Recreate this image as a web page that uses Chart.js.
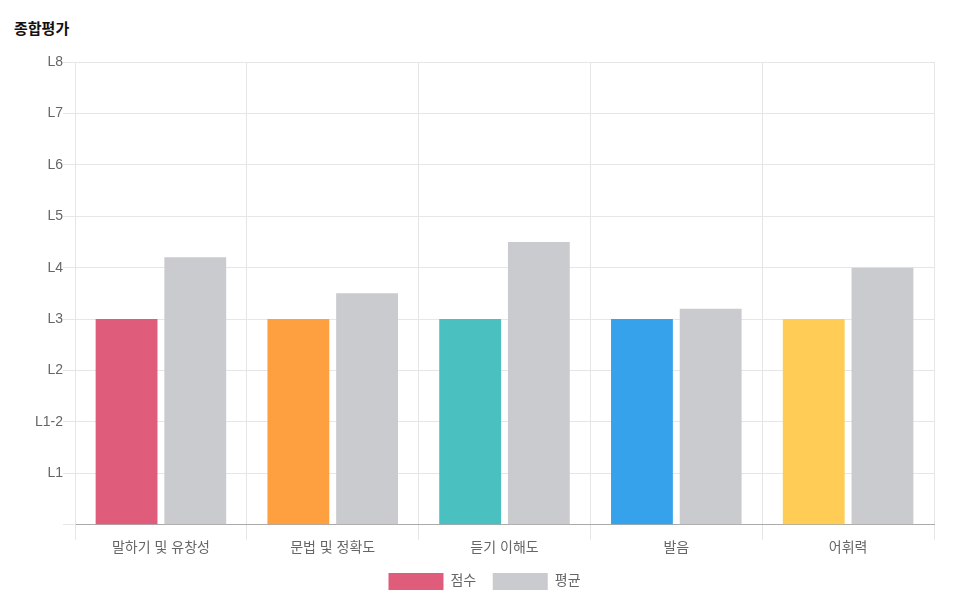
<!DOCTYPE html>
<html lang="ko">
<head>
    <meta charset="UTF-8">
    <script src="https://cdn.jsdelivr.net/npm/chart.js"></script>
    <style>
        body {
            margin: 0;
            padding: 0;
            background: #fff;
            font-family: "Noto Sans CJK KR", "Noto Sans", sans-serif;
        }
        .title {
            position: absolute;
            left: 14px;
            top: 17px;
            font-size: 15px;
            font-weight: bold;
            color: #111;
        }
        .chart-container {
            position: absolute;
            left: 0;
            top: 46px;
            width: 966px;
            height: 559px;
        }
    </style>
</head>
<body>
    <div class="title">종합평가</div>
    <div class="chart-container">
        <canvas id="scoreChart"></canvas>
    </div>
    <script>
        const categories = ['말하기 및 유창성', '문법 및 정확도', '듣기 이해도', '발음', '어휘력'];
        const levelLabels = ['', 'L1', 'L1-2', 'L2', 'L3', 'L4', 'L5', 'L6', 'L7', 'L8'];
        const scoreValues = [4, 4, 4, 4, 4];
        const averageValues = [5.2, 4.5, 5.5, 4.2, 5.0];
        const scoreColors = ['#df5c7b', '#ffa040', '#4bc0c0', '#36a2eb', '#ffcd56'];
        const averageColor = '#c9cbcf';

        const tickFont = '"Liberation Sans", "Noto Sans CJK KR", sans-serif';

        const ctx = document.getElementById('scoreChart').getContext('2d');
        new Chart(ctx, {
            type: 'bar',
            data: {
                labels: categories,
                datasets: [
                    {
                        label: '점수',
                        data: scoreValues,
                        backgroundColor: scoreColors,
                        borderWidth: 0
                    },
                    {
                        label: '평균',
                        data: averageValues,
                        backgroundColor: averageColor,
                        borderWidth: 0
                    }
                ]
            },
            options: {
                responsive: true,
                maintainAspectRatio: false,
                animation: false,
                layout: { padding: { left: 35, right: 32, top: 16, bottom: 5 } },
                scales: {
                    x: {
                        grid: { color: '#e6e6e6', tickLength: 15 },
                        border: { color: '#aaa' },
                        ticks: {
                            color: '#666',
                            padding: 0,
                            font: { size: 14, family: tickFont }
                        }
                    },
                    y: {
                        min: 0,
                        max: 9,
                        grid: { color: '#e6e6e6', tickLength: 12 },
                        border: { color: '#e6e6e6' },
                        ticks: {
                            stepSize: 1,
                            color: '#666',
                            padding: 0,
                            font: { size: 14, family: tickFont },
                            callback: (value) => levelLabels[value]
                        }
                    }
                },
                plugins: {
                    legend: {
                        position: 'bottom',
                        labels: {
                            boxWidth: 55,
                            boxHeight: 17,
                            color: '#666',
                            padding: 16.5,
                            font: { size: 14, family: tickFont }
                        }
                    },
                    tooltip: { enabled: false }
                }
            }
        });
    </script>
</body>
</html>
